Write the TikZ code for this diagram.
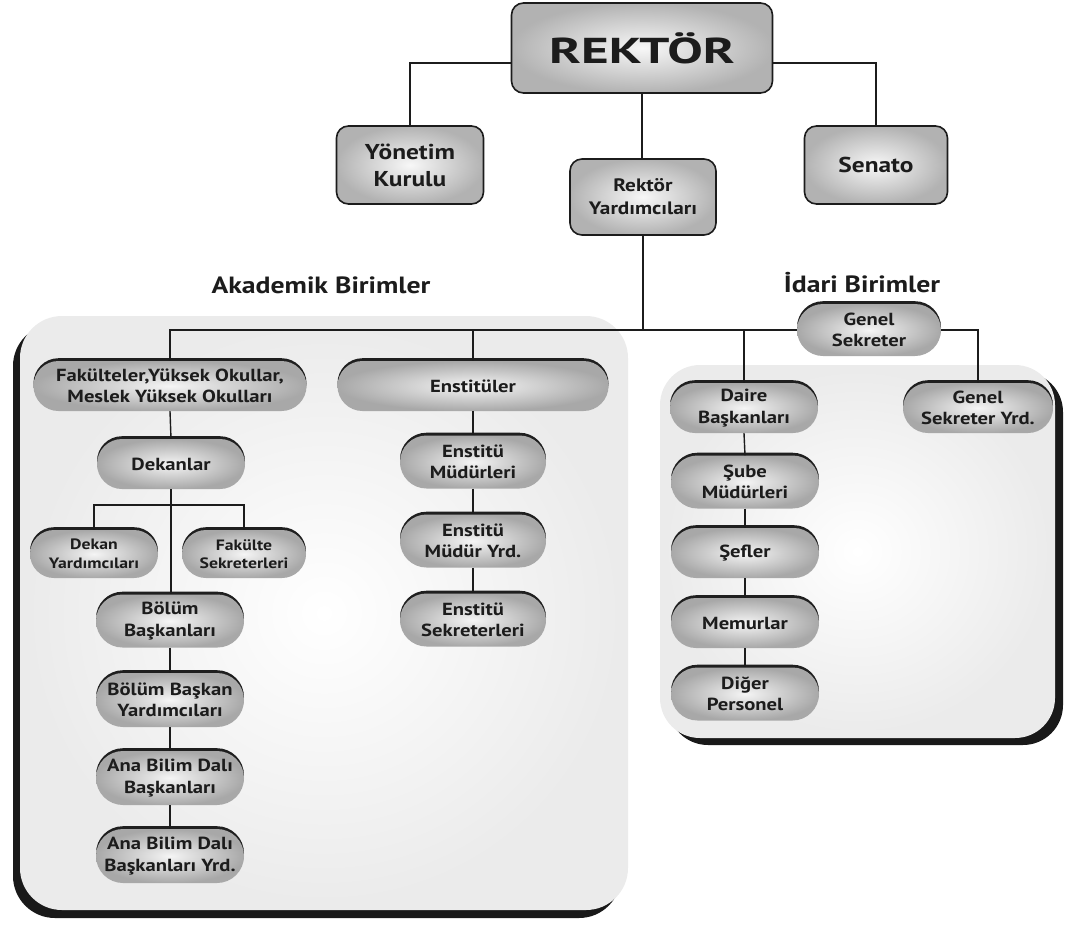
\documentclass[tikz,border=0pt]{standalone}
\usepackage{fontspec}
\setmainfont{PT Sans}[FakeStretch=1.18]
\usetikzlibrary{shapes.misc,shadows}
\definecolor{ink}{HTML}{1c1c1c}
\begin{document}
\begin{tikzpicture}[x=1pt,y=-1pt,
  conn/.style={draw=ink, line width=1.4pt},
  pill/.style={rounded rectangle, inner sep=0pt, minimum width=148pt, minimum height=50pt,
    align=center, font=\bfseries\fontsize{17.5}{21.5}\selectfont, text=ink,
    inner color=gray!8, outer color=gray!68,
    general shadow={fill=black!88, shadow xshift=0pt, shadow yshift=2.8pt}},
  smallpill/.style={pill, font=\bfseries\fontsize{15}{18.5}\selectfont},
  topbox/.style={rectangle, rounded corners=12pt, draw=ink, line width=1.6pt,
    inner sep=0pt, inner color=gray!6, outer color=gray!60, align=center, text=ink},
  panelL/.style={rectangle, rounded corners=42pt, inner sep=0pt,
    inner color=white, outer color=gray!16,
    general shadow={fill=black!90, shadow xshift=-7pt, shadow yshift=-8pt}},
  panelR/.style={rectangle, rounded corners=40pt, inner sep=0pt,
    inner color=white, outer color=gray!16,
    general shadow={fill=black!90, shadow xshift=8pt, shadow yshift=-7pt}},
  grouplabel/.style={font=\bfseries\fontsize{23.5}{26}\selectfont, text=ink}
]
\useasboundingbox (0,0) rectangle (1071,924);

% panels
\node[panelL, minimum width=608pt, minimum height=594pt] (pl) at (324,613) {};
\node[panelR, minimum width=395pt, minimum height=373pt] (pr) at (857.5,551.5) {};

% top boxes
\node[topbox, minimum width=261pt, minimum height=90pt, font=\bfseries\fontsize{36}{40}\selectfont] (rek) at (642,48) {\scalebox{1.25}[1]{REKTÖR}};
\node[topbox, minimum width=147pt, minimum height=78pt, font=\bfseries\fontsize{21.5}{27}\selectfont] (yk) at (410,165) {Yönetim\\Kurulu};
\node[topbox, minimum width=143pt, minimum height=78pt, font=\bfseries\fontsize{21.5}{27}\selectfont] (sen) at (876,165) {Senato};
\node[topbox, minimum width=146pt, minimum height=76pt, font=\bfseries\fontsize{18}{23}\selectfont] (ry) at (643,197) {Rektör\\Yardımcıları};

% group labels
\node[grouplabel] (ak) at (321,285) {Akademik Birimler};
\node[grouplabel] (id) at (862,283) {İdari Birimler};

% academic
\node[pill, minimum width=273pt] (fak) at (170,386) {Fakülteler,Yüksek Okullar,\\Meslek Yüksek Okulları};
\node[pill, minimum width=271pt] (ens) at (473,386) {Enstitüler};
\node[pill] (dek) at (171,464) {Dekanlar};
\node[smallpill, minimum width=128pt, minimum height=48pt] (dy) at (94,554) {Dekan\\Yardımcıları};
\node[smallpill, minimum width=124pt, minimum height=48pt] (fs) at (244,554) {Fakülte\\Sekreterleri};
\node[pill, minimum height=53pt] (bb) at (170,621) {Bölüm\\Başkanları};
\node[pill, minimum height=54pt] (bby) at (170,700) {Bölüm Başkan\\Yardımcıları};
\node[pill, minimum height=54pt] (abd) at (170,778) {Ana Bilim Dalı\\Başkanları};
\node[pill, minimum height=54pt] (abdy) at (170,856) {Ana Bilim Dalı\\Başkanları Yrd.};
\node[pill, minimum width=146pt, minimum height=53pt] (em) at (473,462) {Enstitü\\Müdürleri};
\node[pill, minimum width=146pt, minimum height=53pt] (emy) at (473,541) {Enstitü\\Müdür Yrd.};
\node[pill, minimum width=146pt, minimum height=53pt] (es) at (473,620) {Enstitü\\Sekreterleri};

% administrative
\node[pill, minimum width=144pt, minimum height=52pt] (gs) at (869,330) {Genel\\Sekreter};
\node[pill] (dai) at (744,408) {Daire\\Başkanları};
\node[pill, minimum width=150pt] (gsy) at (978,408) {Genel\\Sekreter Yrd.};
\node[pill, minimum height=53pt] (sube) at (745,482) {Şube\\Müdürleri};
\node[pill] (sef) at (745,553) {Şefler};
\node[pill] (mem) at (745,623) {Memurlar};
\node[pill, minimum height=53pt] (dig) at (745,694) {Diğer\\Personel};

% connectors
\draw[conn] ([yshift=-15pt]rek.west) -| (yk.north);
\draw[conn] ([yshift=-15pt]rek.east) -| (sen.north);
\draw[conn] (rek.south) -- (rek.south |- ry.north);
\draw[conn] (ry.south) -- (ry.south |- gs.west);
\draw[conn] (fak.north) |- (gs.west);
\draw[conn] (ens.north) -- (ens.north |- gs.west);
\draw[conn] (dai.north) -- (dai.north |- gs.west);
\draw[conn] (gs.east) -| (gsy.north);

\coordinate (br) at (170,505);
\draw[conn] (fak.south) -- (dek.north);
\draw[conn] (dek.south) -- (dek.south |- bb.north);
\draw[conn] (dy.north) |- (br) -| (fs.north);
\draw[conn] (bb.south) -- (bby.north);
\draw[conn] (bby.south) -- (abd.north);
\draw[conn] (abd.south) -- (abdy.north);

\draw[conn] (ens.south) -- (em.north);
\draw[conn] (em.south) -- (emy.north);
\draw[conn] (emy.south) -- (es.north);

\draw[conn] (dai.south) -- (sube.north);
\draw[conn] (sube.south) -- (sef.north);
\draw[conn] (sef.south) -- (mem.north);
\draw[conn] (mem.south) -- (dig.north);
\end{tikzpicture}
\end{document}
